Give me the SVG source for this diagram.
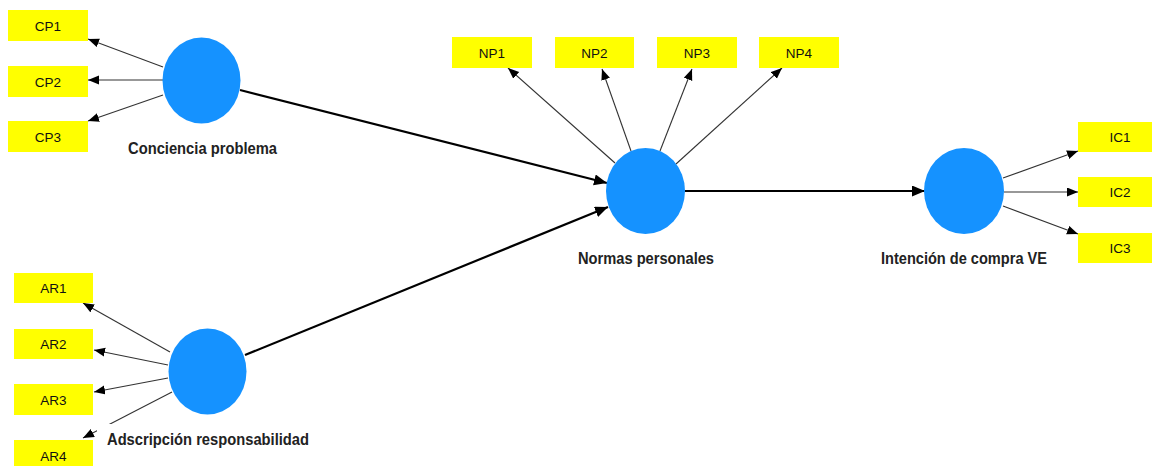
<svg xmlns="http://www.w3.org/2000/svg" width="1152" height="466" viewBox="0 0 1152 466">
<style>
.ind{fill:#FFFF00}
.ind-t{font-family:"Liberation Sans",Arial,sans-serif;font-size:13.5px;fill:#111;text-anchor:middle}
.lv{fill:#1592FF}
.lv-t{font-family:"Liberation Sans",Arial,sans-serif;font-size:16px;font-weight:bold;fill:#222;text-anchor:middle}
.thin{stroke:#333;stroke-width:1.1;fill:none;marker-end:url(#ah)}
.thick{stroke:#000;stroke-width:2.2;fill:none;marker-end:url(#ahb)}
</style>
<defs>
<marker id="ah" markerUnits="userSpaceOnUse" markerWidth="12" markerHeight="10" refX="11" refY="4.5" orient="auto"><path d="M0,0 L11,4.5 L0,9 z" fill="#000"/></marker>
<marker id="ahb" markerUnits="userSpaceOnUse" markerWidth="14" markerHeight="12" refX="13" refY="5.5" orient="auto"><path d="M0,0 L13,5.5 L0,11 z" fill="#000"/></marker>
</defs>
<rect width="1152" height="466" fill="#fff"/>
<g id="connectors">
<line class="thin" x1="163" y1="67" x2="88" y2="39"/>
<line class="thin" x1="163" y1="80" x2="88" y2="80"/>
<line class="thin" x1="163" y1="95" x2="88" y2="121"/>
<line class="thick" x1="240" y1="90" x2="607" y2="183"/>
<line class="thin" x1="170" y1="352" x2="83" y2="303"/>
<line class="thin" x1="168" y1="365" x2="94" y2="350"/>
<line class="thin" x1="168" y1="378" x2="94" y2="392"/>
<line class="thin" x1="172" y1="392" x2="83" y2="438"/>
<line class="thick" x1="245" y1="355" x2="608" y2="207"/>
<line class="thin" x1="615" y1="163" x2="508" y2="68"/>
<line class="thin" x1="631" y1="151" x2="602" y2="69"/>
<line class="thin" x1="660" y1="151" x2="692" y2="69"/>
<line class="thin" x1="676" y1="164" x2="782" y2="68"/>
<line class="thick" x1="685" y1="191" x2="925" y2="191"/>
<line class="thin" x1="1003" y1="178" x2="1078" y2="151"/>
<line class="thin" x1="1004" y1="192" x2="1078" y2="192"/>
<line class="thin" x1="1003" y1="206" x2="1078" y2="234"/>
</g>
<g id="CP">
<ellipse class="lv" cx="201.5" cy="80.5" rx="39" ry="43"/>
<text class="lv-t" x="202.5" y="154" textLength="149" lengthAdjust="spacingAndGlyphs">Conciencia problema</text>
</g>
<g id="AR">
<ellipse class="lv" cx="207.5" cy="371.5" rx="39" ry="43"/>
<rect x="97" y="424" width="216" height="26" fill="#fff"/>
<text class="lv-t" x="208" y="445" textLength="202" lengthAdjust="spacingAndGlyphs">Adscripción responsabilidad</text>
</g>
<g id="NP">
<ellipse class="lv" cx="645.5" cy="191" rx="39.5" ry="43"/>
<text class="lv-t" x="646" y="264" textLength="136" lengthAdjust="spacingAndGlyphs">Normas personales</text>
</g>
<g id="IC">
<ellipse class="lv" cx="964" cy="191" rx="40" ry="43"/>
<text class="lv-t" x="964" y="264" textLength="166" lengthAdjust="spacingAndGlyphs">Intención de compra VE</text>
</g>
<g id="CP1"><rect class="ind" x="8" y="10" width="80" height="31"/><text class="ind-t" x="48" y="30.5">CP1</text></g>
<g id="CP2"><rect class="ind" x="8" y="66" width="80" height="31"/><text class="ind-t" x="48" y="86.5">CP2</text></g>
<g id="CP3"><rect class="ind" x="8" y="121" width="80" height="31"/><text class="ind-t" x="48" y="141.5">CP3</text></g>
<g id="AR1"><rect class="ind" x="14" y="273" width="79" height="30"/><text class="ind-t" x="53.5" y="293">AR1</text></g>
<g id="AR2"><rect class="ind" x="14" y="329" width="79" height="30"/><text class="ind-t" x="53.5" y="349">AR2</text></g>
<g id="AR3"><rect class="ind" x="14" y="384" width="79" height="31"/><text class="ind-t" x="53.5" y="404.5">AR3</text></g>
<g id="AR4"><rect class="ind" x="14" y="440" width="79" height="31"/><text class="ind-t" x="53.5" y="460.5">AR4</text></g>
<g id="NP1"><rect class="ind" x="452" y="37" width="80" height="31"/><text class="ind-t" x="492" y="57.5">NP1</text></g>
<g id="NP2"><rect class="ind" x="555" y="37" width="79" height="31"/><text class="ind-t" x="594.5" y="57.5">NP2</text></g>
<g id="NP3"><rect class="ind" x="657" y="37" width="80" height="31"/><text class="ind-t" x="697" y="57.5">NP3</text></g>
<g id="NP4"><rect class="ind" x="759" y="37" width="80" height="31"/><text class="ind-t" x="799" y="57.5">NP4</text></g>
<g id="IC1"><rect class="ind" x="1078" y="122" width="80" height="30"/><text class="ind-t" x="1120" y="142">IC1</text></g>
<g id="IC2"><rect class="ind" x="1078" y="177" width="80" height="30"/><text class="ind-t" x="1120" y="197">IC2</text></g>
<g id="IC3"><rect class="ind" x="1078" y="233" width="80" height="30"/><text class="ind-t" x="1120" y="253">IC3</text></g>
</svg>
